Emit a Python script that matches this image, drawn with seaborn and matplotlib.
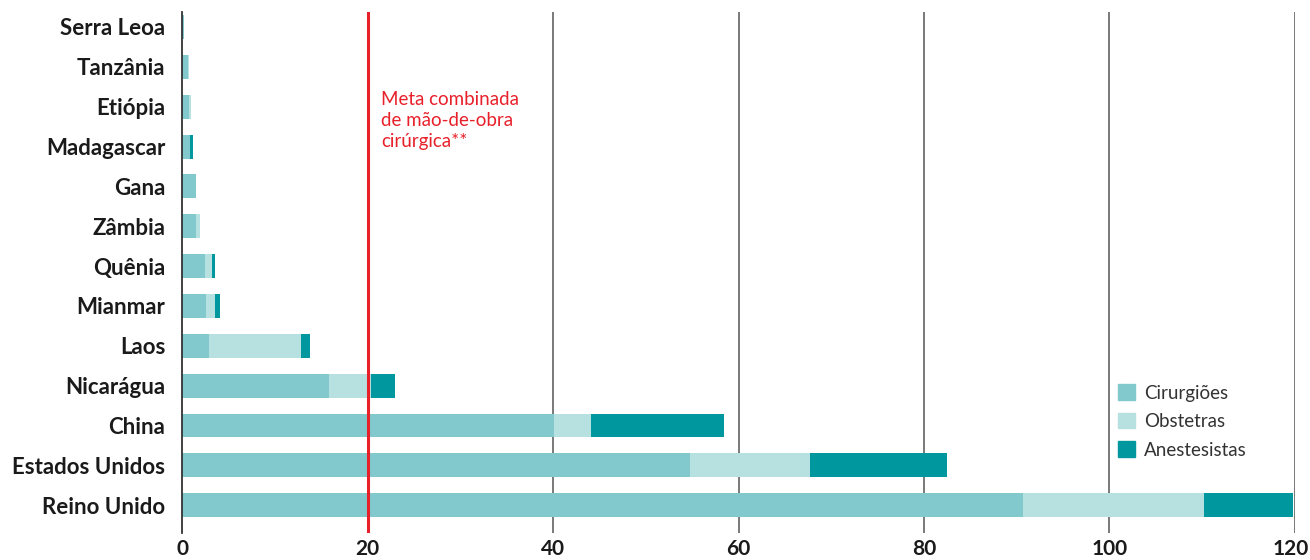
import numpy as np
import pandas as pd
import matplotlib
matplotlib.use("Agg")
import matplotlib.pyplot as plt
import matplotlib.transforms as mtransforms
from matplotlib.patches import Patch
import seaborn as sns

# valores (por 100 mil habitantes)
paises = ["Serra Leoa", "Tanzânia", "Etiópia", "Madagascar", "Gana", "Zâmbia",
          "Quênia", "Mianmar", "Laos", "Nicarágua", "China", "Estados Unidos", "Reino Unido"]
cirurgioes = [0.25, 0.6, 0.7, 0.9, 1.45, 1.55, 2.45, 2.55, 2.9, 15.85, 40.1, 54.8, 90.7]
obstetras = [0.0, 0.1, 0.25, 0.0, 0.0, 0.35, 0.75, 1.0, 9.9, 4.5, 4.0, 12.9, 19.5]
anestesistas = [0.0, 0.0, 0.0, 0.25, 0.0, 0.0, 0.35, 0.55, 1.0, 2.6, 14.3, 14.8, 9.6]
meta = 20
xticks = [0, 20, 40, 60, 80, 100, 120]

cor_cir = "#82c9ce"
cor_obs = "#b7e0e0"
cor_anes = "#00989e"
cor_meta = "#e8202a"

df = pd.DataFrame({"pais": paises, "cir": cirurgioes, "obs": obstetras, "anes": anestesistas})
df["cir_obs"] = df["cir"] + df["obs"]
df["total"] = df["cir_obs"] + df["anes"]

sns.set_style("white")
plt.rcParams["font.family"] = ["Lato", "DejaVu Sans"]

fig = plt.figure(figsize=(13.1, 5.6), dpi=100)
ax = fig.add_axes([0.139, 0.048, 0.8495, 0.9305])

# empilhado: desenha do total para tras
kw = dict(y="pais", width=0.6, saturation=1, linewidth=0, ax=ax, zorder=2)
sns.barplot(data=df, x="total", color=cor_anes, **kw)
sns.barplot(data=df, x="cir_obs", color=cor_obs, **kw)
sns.barplot(data=df, x="cir", color=cor_cir, **kw)

for v in [40, 60, 80, 100, 120]:
    ax.axvline(v, color="#555555", lw=1.1, zorder=1)
ax.axvline(meta, color=cor_meta, lw=2.2, zorder=3)
ax.text(meta + 1.5, 1.6, "Meta combinada\nde mão-de-obra\ncirúrgica**", color=cor_meta,
        fontsize=13.5, va="top", ha="left", linespacing=1.3)

ax.set_xlim(0, 120)
ax.set_ylim(12.7, -0.375)
ax.set_xticks(xticks)
ax.set_xlabel("")
ax.set_ylabel("")
for s in ["top", "right", "bottom"]:
    ax.spines[s].set_visible(False)
ax.spines["left"].set_color("#333333")
ax.spines["left"].set_linewidth(1.3)
ax.tick_params(axis="both", length=0)
ax.tick_params(axis="x", labelsize=15, pad=4)
ax.tick_params(axis="y", labelsize=16, pad=12)
for lb in ax.get_xticklabels() + ax.get_yticklabels():
    lb.set_fontweight("bold")
    lb.set_color("#1a1a1a")
# o ultimo rotulo fica rente a borda
last = ax.get_xticklabels()[-1]
last.set_transform(last.get_transform() + mtransforms.ScaledTranslation(-4 / 100, 0, fig.dpi_scale_trans))

handles = [Patch(color=cor_cir, label="Cirurgiões"),
           Patch(color=cor_obs, label="Obstetras"),
           Patch(color=cor_anes, label="Anestesistas")]
ax.legend(handles=handles, loc="upper left", bbox_to_anchor=(0.834, 0.30), frameon=False,
          fontsize=13.5, handlelength=0.9, handleheight=0.9, handletextpad=0.5,
          labelspacing=0.6, labelcolor="#333333", borderaxespad=0)

fig.savefig("out.png", dpi=100)
